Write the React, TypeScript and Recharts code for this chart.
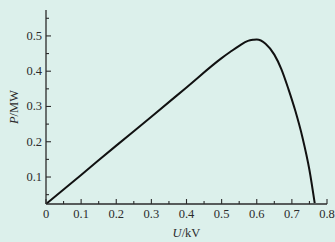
import React from "react";
import { LineChart, Line, XAxis, YAxis, Label } from "recharts";

// P-U curve
const voltage = [0, 0.1, 0.2, 0.3, 0.4, 0.5, 0.525, 0.55, 0.575, 0.59, 0.6, 0.625, 0.65, 0.67, 0.69, 0.71, 0.73, 0.75, 0.765];
const power = [0.0235, 0.106, 0.189, 0.271, 0.354, 0.437, 0.455, 0.472, 0.486, 0.489, 0.49, 0.478, 0.447, 0.406, 0.35, 0.287, 0.213, 0.12, 0.026];

const xTicks = [0, 0.05, 0.1, 0.15, 0.2, 0.25, 0.3, 0.35, 0.4, 0.45, 0.5, 0.55, 0.6, 0.65, 0.7, 0.75, 0.8];
const yTicks = [0.05, 0.1, 0.15, 0.2, 0.25, 0.3, 0.35, 0.4, 0.45, 0.5, 0.55];

const xDomain = [0, 0.8];
const yDomain = [0.0235, 0.5735];

const data = voltage.map((u, i) => ({ u, p: power[i] }));

const ink = "#2b2b2b";
const font = "'Liberation Serif', 'Times New Roman', serif";

const isMajor = (v: number) => Math.abs(v * 10 - Math.round(v * 10)) < 1e-6;
const fmt = (v: number) => (v === 0 ? "0" : v.toFixed(1));

const XTick = (props: any) => {
  const { x, y, payload } = props;
  const major = isMajor(payload.value);
  return (
    <g>
      <line x1={x} x2={x} y1={y} y2={y - (major ? 5 : 3)} stroke={ink} strokeWidth={1.1} />
      {major && (
        <text x={x} y={y + 14} textAnchor="middle" fill={ink} fontSize={12.5} fontFamily={font}>
          {fmt(payload.value)}
        </text>
      )}
    </g>
  );
};

const YTick = (props: any) => {
  const { x, y, payload } = props;
  const major = isMajor(payload.value);
  return (
    <g>
      <line x1={x} x2={x + (major ? 5 : 3)} y1={y} y2={y} stroke={ink} strokeWidth={1.1} />
      {major && (
        <text x={x - 4} y={y + 4} textAnchor="end" fill={ink} fontSize={12.5} fontFamily={font}>
          {fmt(payload.value)}
        </text>
      )}
    </g>
  );
};

const XTitle = (props: any) => {
  const { viewBox } = props;
  return (
    <text x={viewBox.x + viewBox.width / 2} y={viewBox.y + 33} textAnchor="middle" fill={ink} fontSize={12.5} fontFamily={font}>
      <tspan fontStyle="italic">U</tspan>
      <tspan>/kV</tspan>
    </text>
  );
};

const YTitle = (props: any) => {
  const { viewBox } = props;
  const cx = viewBox.x + viewBox.width - 28;
  const cy = viewBox.y + viewBox.height / 2;
  return (
    <text x={cx} y={cy} transform={`rotate(-90 ${cx} ${cy})`} textAnchor="middle" fill={ink} fontSize={12.5} fontFamily={font}>
      <tspan fontStyle="italic">P</tspan>
      <tspan>/MW</tspan>
    </text>
  );
};

const App = () => {
  return (
    <div style={{ position: "absolute", left: 0, top: 0, width: 335, height: 242, background: "#dcf0eb" }}>
      <LineChart width={335} height={242} data={data} margin={{ top: 10, right: 8, bottom: 8, left: 10 }}>
        <XAxis
          dataKey="u"
          type="number"
          domain={xDomain}
          ticks={xTicks}
          interval={0}
          allowDataOverflow
          tickSize={0}
          tickMargin={0}
          tickLine={false}
          tick={<XTick />}
          height={30}
          axisLine={{ stroke: ink, strokeWidth: 1.3 }}
        >
          <Label content={<XTitle />} />
        </XAxis>
        <YAxis
          type="number"
          domain={yDomain}
          ticks={yTicks}
          interval={0}
          allowDataOverflow
          tickSize={0}
          tickMargin={0}
          tickLine={false}
          tick={<YTick />}
          width={36}
          axisLine={{ stroke: ink, strokeWidth: 1.3 }}
        >
          <Label content={<YTitle />} />
        </YAxis>
        <Line dataKey="p" type="monotone" stroke="#111" strokeWidth={2} dot={false} isAnimationActive={false} />
      </LineChart>
    </div>
  );
};

export default App;
